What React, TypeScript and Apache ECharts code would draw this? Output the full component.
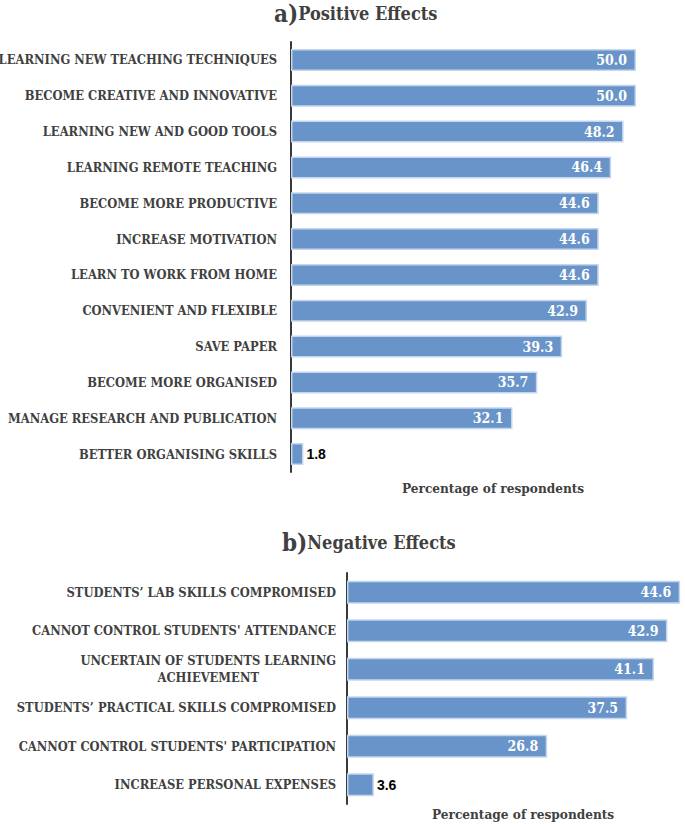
import React, { useEffect, useRef } from 'react';
import * as echarts from 'echarts';

const posCategories = [
  'LEARNING NEW TEACHING TECHNIQUES',
  'BECOME CREATIVE AND INNOVATIVE',
  'LEARNING NEW AND GOOD TOOLS',
  'LEARNING REMOTE TEACHING',
  'BECOME MORE PRODUCTIVE',
  'INCREASE MOTIVATION',
  'LEARN TO WORK FROM HOME',
  'CONVENIENT AND FLEXIBLE',
  'SAVE PAPER',
  'BECOME MORE ORGANISED',
  'MANAGE RESEARCH AND PUBLICATION',
  'BETTER ORGANISING SKILLS',
];
const posValues = [50.0, 50.0, 48.2, 46.4, 44.6, 44.6, 44.6, 42.9, 39.3, 35.7, 32.1, 1.8];

const negCategories = [
  'STUDENTS’ LAB SKILLS COMPROMISED',
  "CANNOT CONTROL STUDENTS' ATTENDANCE",
  'UNCERTAIN OF STUDENTS LEARNING\nACHIEVEMENT',
  'STUDENTS’ PRACTICAL SKILLS COMPROMISED',
  "CANNOT CONTROL STUDENTS' PARTICIPATION",
  'INCREASE PERSONAL EXPENSES',
];
const negValues = [44.6, 42.9, 41.1, 37.5, 26.8, 3.6];

const axisTitle = 'Percentage of respondents';

const FONT = "'DejaVu Serif Condensed', 'Liberation Serif', serif";
const TEXT = '#404040';
const BAR = '#6894C9';
const BAR_EDGE = '#C4D6EE';

function barData(values: number[]) {
  return values.map((v) =>
    v < 10
      ? {
          value: v,
          label: {
            position: 'right',
            distance: 3,
            color: '#000',
            fontFamily: "'Liberation Sans', Arial, sans-serif",
            fontSize: 14,
          },
        }
      : { value: v }
  );
}

function catLabel(s: string) {
  return s
    .split('\n')
    .map((l) => '{c|' + l + '}')
    .join('\n');
}

export default function App() {
  const ref = useRef<HTMLDivElement>(null);
  useEffect(() => {
    const chart = echarts.init(ref.current!, null, { renderer: 'svg' });
    const yAxisCommon = {
      type: 'category',
      inverse: true,
      axisLine: { show: true, lineStyle: { color: '#3a3a3a', width: 2 } },
      axisTick: { show: false },
      splitLine: { show: false },
    };
    const labelRich = {
      c: {
        align: 'center',
        fontFamily: FONT,
        fontWeight: 'bold',
        fontSize: 12.8,
        color: TEXT,
        lineHeight: 17,
      },
    };
    const titleRich = {
      a: { fontFamily: FONT, fontWeight: 'bold', fontSize: 24, color: TEXT, lineHeight: 26 },
      t: { fontFamily: FONT, fontWeight: 'bold', fontSize: 18, color: TEXT, lineHeight: 26 },
    };
    chart.setOption({
      animation: false,
      backgroundColor: '#fff',
      title: [
        {
          text: '{a|a)}{t|Positive Effects}',
          left: 274,
          top: 0,
          padding: 0,
          textStyle: { rich: titleRich },
        },
        {
          text: '{a|b)}{t|Negative Effects}',
          left: 282,
          top: 529,
          padding: 0,
          textStyle: { rich: titleRich },
        },
        {
          text: axisTitle,
          left: 402,
          top: 481,
          padding: 0,
          textStyle: { fontFamily: FONT, fontWeight: 'bold', fontSize: 13.5, color: TEXT },
        },
        {
          text: axisTitle,
          left: 432,
          top: 807,
          padding: 0,
          textStyle: { fontFamily: FONT, fontWeight: 'bold', fontSize: 13.5, color: TEXT },
        },
      ],
      grid: [
        { left: 291, top: 42, width: 345, height: 430, containLabel: false, outerBoundsMode: 'none' },
        { left: 347, top: 573, width: 373.5, height: 231, containLabel: false, outerBoundsMode: 'none' },
      ],
      xAxis: [
        { type: 'value', gridIndex: 0, min: 0, max: 50, show: false },
        { type: 'value', gridIndex: 1, min: 0, max: 50, show: false },
      ],
      yAxis: [
        {
          ...yAxisCommon,
          gridIndex: 0,
          data: posCategories,
          axisLabel: { margin: 14, formatter: catLabel, rich: labelRich },
        },
        {
          ...yAxisCommon,
          gridIndex: 1,
          data: negCategories,
          axisLabel: { margin: 11, formatter: catLabel, rich: labelRich },
        },
      ],
      series: [
        {
          type: 'bar',
          xAxisIndex: 0,
          yAxisIndex: 0,
          data: barData(posValues),
          barWidth: 22,
          itemStyle: { color: BAR, borderColor: BAR_EDGE, borderWidth: 1.5 },
          label: {
            show: true,
            position: 'insideRight',
            distance: 9,
            color: '#fff',
            fontFamily: FONT,
            fontWeight: 'bold',
            fontSize: 14,
            formatter: (p: any) => Number(p.value).toFixed(1),
          },
        },
        {
          type: 'bar',
          xAxisIndex: 1,
          yAxisIndex: 1,
          data: barData(negValues),
          barWidth: 23,
          itemStyle: { color: BAR, borderColor: BAR_EDGE, borderWidth: 1.5 },
          label: {
            show: true,
            position: 'insideRight',
            distance: 9,
            color: '#fff',
            fontFamily: FONT,
            fontWeight: 'bold',
            fontSize: 14,
            formatter: (p: any) => Number(p.value).toFixed(1),
          },
        },
      ],
    });
    return () => chart.dispose();
  }, []);
  return (
    <div
      ref={ref}
      style={{ position: 'fixed', left: 0, top: 0, width: 685, height: 824, background: '#fff' }}
    />
  );
}
